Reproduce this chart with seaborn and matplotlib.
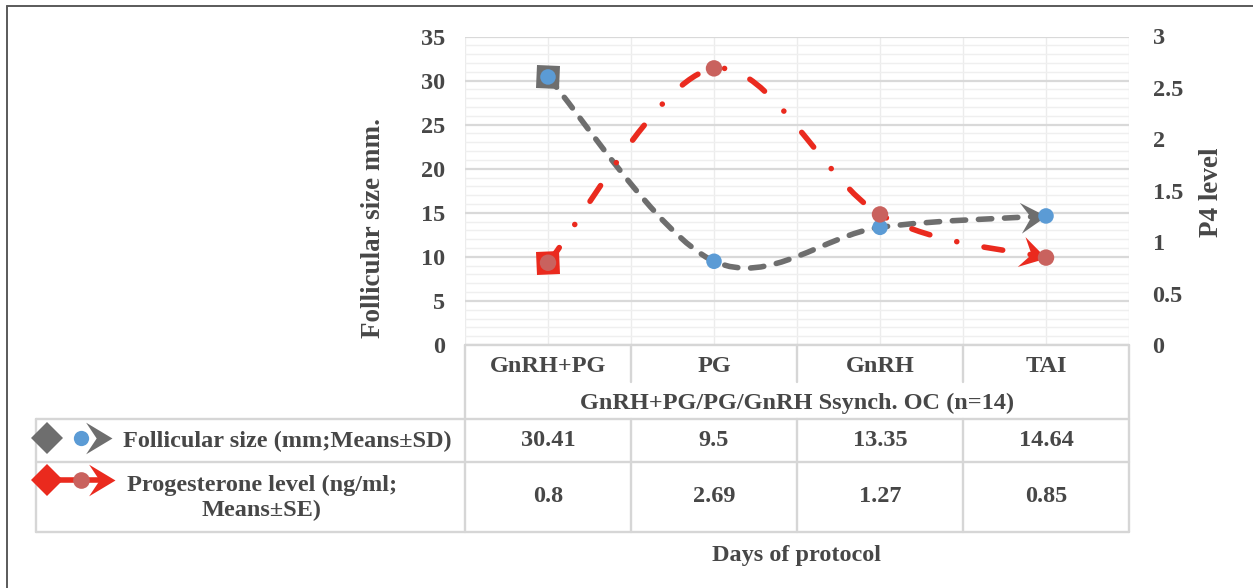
import numpy as np
import pandas as pd
import matplotlib
matplotlib.use("Agg")
import matplotlib.pyplot as plt
import seaborn as sns
from matplotlib.path import Path
from matplotlib.patches import PathPatch
from matplotlib.markers import MarkerStyle
from matplotlib.transforms import Affine2D

# ---------------- data ----------------
categories = ["GnRH+PG", "PG", "GnRH", "TAI"]
follicular_size = [30.41, 9.5, 13.35, 14.64]
progesterone = [0.8, 2.69, 1.27, 0.85]
left_ticks = [0, 5, 10, 15, 20, 25, 30, 35]
right_ticks = [0, 0.5, 1, 1.5, 2, 2.5, 3]
group_label = "GnRH+PG/PG/GnRH Ssynch. OC (n=14)"
row_label_fol = "Follicular size (mm;Means±SD)"
row_label_p4 = "Progesterone level (ng/ml;\nMeans±SE)"
x_title = "Days of protocol"
y_left_title = "Follicular size mm."
y_right_title = "P4 level"

# ---------------- style ----------------
W, H = 1253, 588
sns.set_theme(style="white")
plt.rcParams["font.family"] = ["Liberation Serif", "DejaVu Serif"]
plt.rcParams["font.weight"] = "bold"
TXT = "#474747"
FS = 17.5
FS_ROT = 19.5
GRAY = "#6e6e6e"
RED = "#ea2a1e"
BLUE = "#5b9bd5"
ROSE = "#c9625e"
LINEC = "#d6d6d6"
LW = 4.0

fig = plt.figure(figsize=(W / 100, H / 100), dpi=100)
fig.patch.set_facecolor("white")


def fx(px):
    return px / W


def fy(py):
    return 1 - py / H


L, R, T, B = 465, 1129, 36.5, 345
ax = fig.add_axes([fx(L), fy(B), fx(R) - fx(L), fy(T) - fy(B)])
ax2 = ax.twinx()
ax.set_zorder(1)
ax2.set_zorder(2)
ax.patch.set_alpha(0)
ax2.patch.set_alpha(0)

n = len(categories)
xpos = np.arange(n)
df = pd.DataFrame({"day": categories, "x": xpos,
                   "follicular": follicular_size, "p4": progesterone})

ax.set_xlim(-0.5, n - 0.5)
ax.set_ylim(left_ticks[0], left_ticks[-1])
ax2.set_ylim(right_ticks[0], right_ticks[-1])

# ---------------- axes cosmetics ----------------
ax.set_yticks(left_ticks)
ax.set_yticks(np.arange(left_ticks[0], left_ticks[-1], 1), minor=True)
ax.set_xticks(np.arange(-0.5, n, 0.5))
ax.set_xticklabels([])
ax.tick_params(axis="both", which="both", length=0)
ax.tick_params(axis="y", pad=14, labelsize=FS, labelcolor=TXT)
ax2.set_yticks(right_ticks)
ax2.set_yticklabels([f"{t:g}" for t in right_ticks])
ax2.tick_params(axis="y", length=0, pad=17, labelsize=FS, labelcolor=TXT)
ax.grid(True, which="major", axis="y", color="#d9d9d9", lw=1.6)
ax.grid(True, which="minor", axis="y", color="#efefef", lw=1.0)
ax.grid(True, which="major", axis="x", color="#ececec", lw=1.0)
ax2.grid(False)
for a in (ax, ax2):
    for s in a.spines.values():
        s.set_visible(False)


# ---------------- smoothed curves (Excel-like) ----------------
def smooth_path(xs, ys):
    P = np.column_stack([xs, ys]).astype(float)
    ext = np.vstack([P[0], P, P[-1]])
    verts = [P[0]]
    codes = [Path.MOVETO]
    first_c, last_c = None, None
    for i in range(len(P) - 1):
        p0, p1, p2, p3 = ext[i], ext[i + 1], ext[i + 2], ext[i + 3]
        c1 = p1 + (p2 - p0) / 6.0
        c2 = p2 - (p3 - p1) / 6.0
        if first_c is None:
            first_c = c1
        last_c = c2
        verts += [c1, c2, p2]
        codes += [Path.CURVE4] * 3
    return Path(verts, codes), P[0], first_c, last_c, P[-1]


def angle(a, p, q):
    d = a.transData.transform(q) - a.transData.transform(p)
    return np.degrees(np.arctan2(d[1], d[0]))


stealth = Path([(0, 0), (-1, 0.6), (-0.6, 0), (-1, -0.6), (0, 0)],
               [Path.MOVETO, Path.LINETO, Path.LINETO, Path.LINETO, Path.CLOSEPOLY])


def series(a, xs, ys, color, ls):
    path, p0, c1, c2, pn = smooth_path(xs, ys)
    patch = PathPatch(path, fill=False, edgecolor=color, lw=LW,
                      linestyle=ls, capstyle="round", zorder=3)
    a.add_patch(patch)
    a0 = angle(a, p0, c1)
    a1 = angle(a, c2, pn)
    a.plot([p0[0]], [p0[1]], linestyle="none",
           marker=MarkerStyle("D", transform=Affine2D().rotate_deg(a0)),
           markersize=16.5, color=color, markeredgewidth=0, zorder=4)
    a.plot([pn[0]], [pn[1]], linestyle="none",
           marker=MarkerStyle(stealth, transform=Affine2D().rotate_deg(a1)),
           markersize=37, color=color, markeredgewidth=0, zorder=4)


series(ax, df["x"], df["follicular"], GRAY, (0, (2.4, 2.3)))
series(ax2, df["x"], df["p4"], RED, (0, (3.4, 5.0, 0.01, 5.0)))

sns.scatterplot(data=df, x="x", y="follicular", ax=ax, color=BLUE, s=125,
                edgecolor="none", linewidth=0, zorder=6, legend=False)
sns.scatterplot(data=df, x="x", y="p4", ax=ax2, color=ROSE, s=140,
                edgecolor="none", linewidth=0, zorder=6, legend=False)
for a in (ax, ax2):
    a.set_xlabel("")
    a.set_ylabel("")
ax.set_xlim(-0.5, n - 0.5)
ax.set_ylim(left_ticks[0], left_ticks[-1])
ax2.set_ylim(right_ticks[0], right_ticks[-1])

fig.text(fx(373), fy(228), y_left_title, rotation=90, ha="center", va="center",
         fontsize=FS_ROT, color=TXT)
fig.text(fx(1211), fy(192), y_right_title, rotation=90, ha="center", va="center",
         fontsize=FS_ROT, color=TXT)

# ---------------- data table ----------------
tab = fig.add_axes([0, 0, 1, 1], zorder=5)
tab.set_xlim(0, W)
tab.set_ylim(H, 0)
tab.axis("off")
tab.patch.set_alpha(0)

col_w = (R - L) / n
edges = [L + col_w * k for k in range(n + 1)]
centers = [L + col_w * (k + 0.5) for k in range(n)]
TL = 36
Y_CAT_BOT, Y_ROW1, Y_ROW2, Y_BOT = 382, 419, 462, 532
lw_t = 1.7

tab.plot([L, R], [B, B], color=LINEC, lw=lw_t)
for yy in (Y_ROW1, Y_ROW2, Y_BOT):
    tab.plot([TL, R], [yy, yy], color=LINEC, lw=lw_t)
tab.plot([TL, TL], [Y_ROW1, Y_BOT], color=LINEC, lw=lw_t)
for e in (edges[0], edges[-1]):
    tab.plot([e, e], [B, Y_BOT], color=LINEC, lw=lw_t)
for e in edges[1:-1]:
    tab.plot([e, e], [B, Y_CAT_BOT], color=LINEC, lw=lw_t)
    tab.plot([e, e], [Y_ROW1, Y_BOT], color=LINEC, lw=lw_t)

for i, c in enumerate(categories):
    tab.text(centers[i], 366, c, ha="center", va="center", fontsize=FS, color=TXT)
    tab.text(centers[i], 441, f"{follicular_size[i]:g}", ha="center", va="center",
             fontsize=FS, color=TXT)
    tab.text(centers[i], 497, f"{progesterone[i]:g}", ha="center", va="center",
             fontsize=FS, color=TXT)
tab.text((L + R) / 2, 403, group_label, ha="center", va="center", fontsize=FS, color=TXT)
tab.text(123, 441, row_label_fol, ha="left", va="center", fontsize=FS, color=TXT)
tab.text(262, 498, row_label_p4, ha="center", va="center", fontsize=FS, color=TXT,
         multialignment="center", linespacing=1.25)
tab.text((L + R) / 2, 555, x_title, ha="center", va="center", fontsize=FS, color=TXT)

# legend keys inside the table
tab.plot([47], [438], marker="D", markersize=16.5, color=GRAY, markeredgewidth=0)
tab.plot([81], [438], marker="o", markersize=11, color=BLUE, markeredgewidth=0)
tab.plot([112], [438], marker=stealth, markersize=38, color=GRAY, markeredgewidth=0)
tab.plot([47, 100], [480, 480], color=RED, lw=LW)
tab.plot([47], [480], marker="D", markersize=16.5, color=RED, markeredgewidth=0)
tab.plot([81], [480], marker="o", markersize=12, color=ROSE, markeredgewidth=0)
tab.plot([115], [480], marker=stealth, markersize=38, color=RED, markeredgewidth=0)

# outer frame (left and top edges visible)
tab.plot([7, 7], [6, H], color="#5a5a5a", lw=1.4)
tab.plot([7, W], [6, 6], color="#5a5a5a", lw=1.4)

fig.savefig("out.png", dpi=100, facecolor="white")
